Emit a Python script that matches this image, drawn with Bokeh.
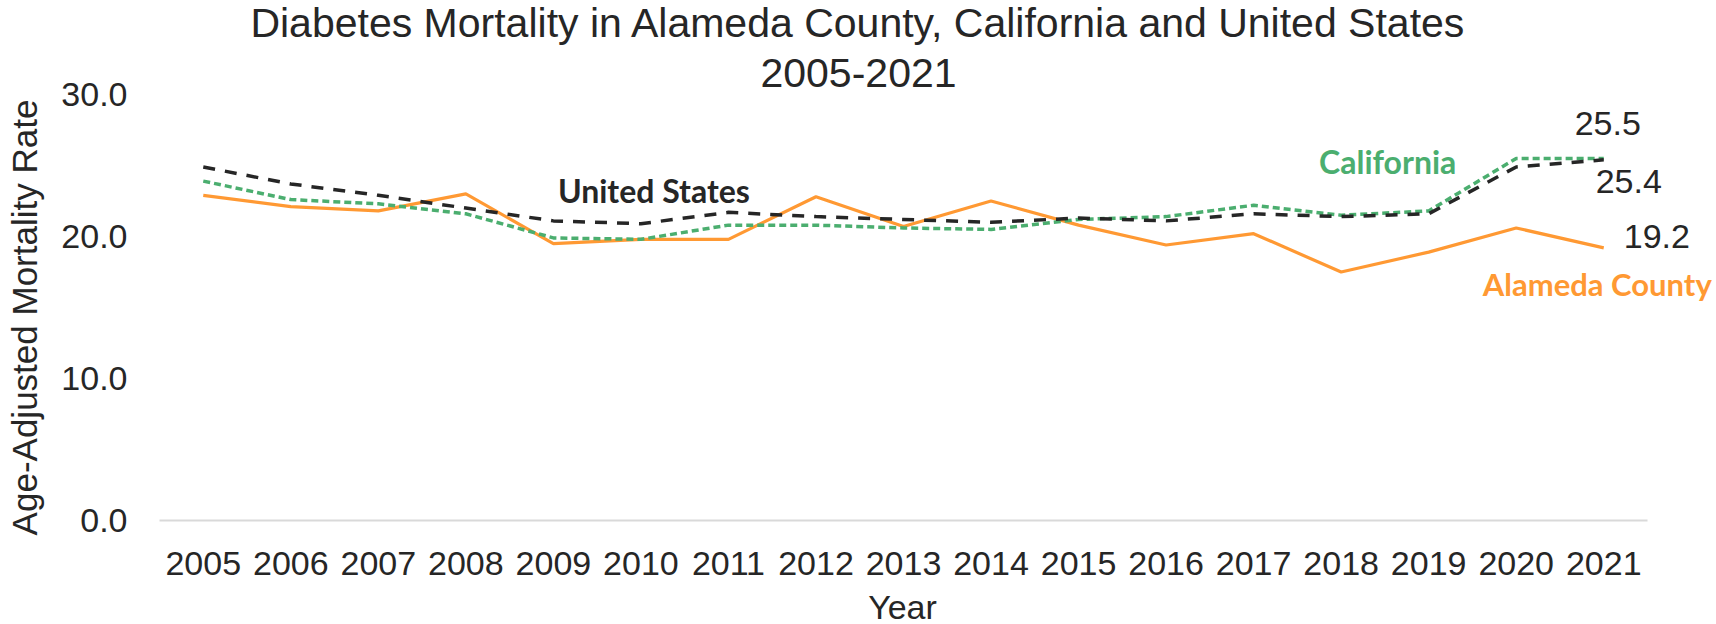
import math
from bokeh.plotting import figure
from bokeh.models import Range1d, FixedTicker, PrintfTickFormatter, Label
from bokeh.embed import file_html
from bokeh.resources import INLINE

# ---- data ----
years = list(range(2005, 2022))
alameda = [22.9, 22.1, 21.8, 23.0, 19.5, 19.8, 19.8, 22.8, 20.7, 22.5, 20.8, 19.4, 20.2, 17.5, 18.9, 20.6, 19.2]
california = [23.9, 22.6, 22.3, 21.6, 19.9, 19.8, 20.8, 20.8, 20.6, 20.5, 21.2, 21.4, 22.2, 21.5, 21.8, 25.5, 25.5]
united_states = [24.9, 23.7, 22.9, 22.0, 21.1, 20.9, 21.7, 21.4, 21.2, 21.0, 21.3, 21.1, 21.6, 21.4, 21.6, 24.9, 25.4]
y_ticks = [0, 10, 20, 30]
series_names = ["Alameda County", "California", "United States"]
title_lines = ["Diabetes Mortality in Alameda County, California and United States", "2005-2021"]
x_title = "Year"
y_title = "Age-Adjusted Mortality Rate"

ORANGE = "#FF9933"
GREEN = "#4BAE6F"
DARK = "#262626"
FONT = "Liberation Sans"
BOLD_FONT = "Lato"

# ---- layout (pixels) ----
W, H = 1716, 624
LEFT, BOTTOM = 159, 104          # plot-area left edge / space below plot area
PX_PER_YEAR = 87.53              # plot area 159..1647 holds 17 years
PX_PER_UNIT = 14.2               # 0..30 spans 426 px
x_start = years[0] - 0.5
y_start = y_ticks[0]

# the drawing frame covers the whole canvas; axes are pinned at the plot-area edges
p = figure(width=W, height=H, output_backend="svg", toolbar_location=None,
           x_range=Range1d(x_start - LEFT / PX_PER_YEAR, x_start + (W - LEFT) / PX_PER_YEAR),
           y_range=Range1d(y_start - BOTTOM / PX_PER_UNIT, y_start + (H - BOTTOM) / PX_PER_UNIT),
           min_border_left=0, min_border_right=0, min_border_top=0, min_border_bottom=0)
p.outline_line_color = None
p.xgrid.visible = False
p.ygrid.visible = False
p.background_fill_color = "white"
p.border_fill_color = "white"

# axes
p.xaxis.fixed_location = y_start
p.xaxis.ticker = FixedTicker(ticks=years)
p.xaxis.axis_line_color = None
p.xaxis.major_tick_line_color = None
p.xaxis.major_tick_out = 0
p.xaxis.major_tick_in = 0
p.xaxis.minor_tick_line_color = None
p.xaxis.major_label_text_font = FONT
p.xaxis.major_label_text_font_size = "34px"
p.xaxis.major_label_text_color = DARK
p.xaxis.major_label_standoff = 31

p.yaxis.fixed_location = x_start
p.yaxis.ticker = FixedTicker(ticks=y_ticks)
p.yaxis.formatter = PrintfTickFormatter(format="%.1f")
p.yaxis.axis_line_color = None
p.yaxis.major_tick_line_color = None
p.yaxis.major_tick_out = 0
p.yaxis.major_tick_in = 0
p.yaxis.minor_tick_line_color = None
p.yaxis.major_label_text_font = FONT
p.yaxis.major_label_text_font_size = "34px"
p.yaxis.major_label_text_color = DARK
p.yaxis.major_label_standoff = 32

# category-axis baseline (spans the years only)
p.segment(x0=[years[0] - 0.5], y0=[y_ticks[0]], x1=[years[-1] + 0.5], y1=[y_ticks[0]],
          line_color="#D9D9D9", line_width=2)

# series
p.line(years, alameda, line_color=ORANGE, line_width=3.2)
p.line(years, california, line_color=GREEN, line_width=3.5, line_dash="7 4")
p.line(years, united_states, line_color=DARK, line_width=3.5, line_dash="12 10")

def add_label(text, x, y, units="data", xo=0, yo=0, color=DARK, font=FONT, size="34px",
              style="normal", align="center", baseline="middle", angle=0):
    p.add_layout(Label(x=x, y=y, x_units=units, y_units=units, x_offset=xo, y_offset=yo,
                       text=text, text_color=color, text_font=font, text_font_size=size,
                       text_font_style=style, text_align=align, text_baseline=baseline,
                       angle=angle))

# end value labels
add_label(f"{california[-1]:.1f}", years[-1], california[-1], xo=4, yo=35)
add_label(f"{united_states[-1]:.1f}", years[-1], united_states[-1], xo=25, yo=-22)
add_label(f"{alameda[-1]:.1f}", years[-1], alameda[-1], xo=20, yo=11, align="left")

# series name labels
add_label(series_names[2], years[5], united_states[5], xo=13, yo=33, font=BOLD_FONT, size="32px", style="bold")
add_label(series_names[1], years[14], california[14], xo=-41, yo=49, color=GREEN, font=BOLD_FONT, size="32px", style="bold")
add_label(series_names[0], years[-1], alameda[-1], xo=108, yo=-36, color=ORANGE, font=BOLD_FONT, size="31px",
          style="bold", align="right")

# chart title and axis titles (screen units: pixels from the canvas bottom-left)
add_label(title_lines[0], 858, H - 22, units="screen", size="41px")
add_label(title_lines[1], 858, H - 72, units="screen", size="41px")
add_label(x_title, 902, H - 606, units="screen", size="34px")
add_label(y_title, 24, H - 317, units="screen", size="35px", angle=math.pi / 2)

open("out.html", "w").write(file_html(p, INLINE))
